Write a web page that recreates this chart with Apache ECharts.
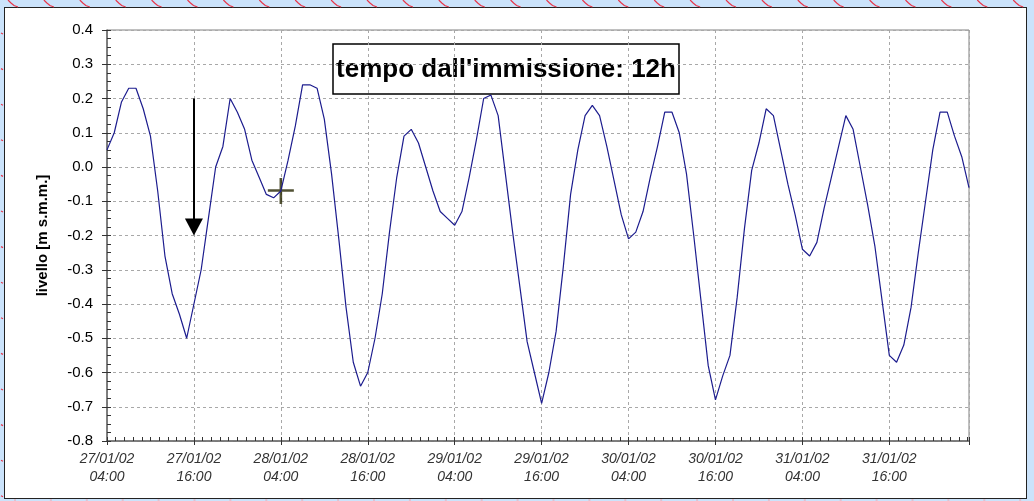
<!DOCTYPE html>
<html>
<head>
<meta charset="utf-8">
<script src="https://cdn.jsdelivr.net/npm/echarts@6/dist/echarts.min.js"></script>
<style>
	html, body { margin:0; padding:0; background:#cbe3fb; }
	#panel { position:absolute; left:4px; top:7px; width:1023px; height:492px; background:#fff; border:1px solid #222; box-sizing:border-box; }
	#chart { position:absolute; left:0; top:0; width:1034px; height:501px; }
</style>
</head>
<body>
<div id="panel"></div>
<div id="chart"></div>
<script>
	// livello orario, dal 27/01/02 04:00 (un valore per ora)
	var day27 = [0.05, 0.10, 0.19, 0.23, 0.23, 0.17, 0.09, -0.07, -0.26, -0.37,
		-0.43, -0.50, -0.40, -0.30, -0.15, 0.00, 0.06, 0.20, 0.16, 0.11];
	var day28 = [0.02, -0.03, -0.08, -0.09, -0.07, 0.02, 0.12, 0.24, 0.24, 0.23, 0.14, -0.02,
		-0.21, -0.41, -0.57, -0.64, -0.60, -0.50, -0.37, -0.19, -0.03, 0.09, 0.11, 0.07];
	var day29 = [0.00, -0.07, -0.13, -0.15, -0.17, -0.13, -0.03, 0.08, 0.20, 0.21, 0.15, -0.02,
		-0.19, -0.35, -0.51, -0.60, -0.69, -0.60, -0.48, -0.29, -0.08, 0.05, 0.15, 0.18];
	var day30 = [0.15, 0.06, -0.04, -0.14, -0.21, -0.19, -0.13, -0.03, 0.06, 0.16, 0.16, 0.10,
		-0.02, -0.20, -0.39, -0.58, -0.68, -0.61, -0.55, -0.38, -0.18, -0.01, 0.07, 0.17];
	var day31 = [0.15, 0.05, -0.05, -0.14, -0.24, -0.26, -0.22, -0.12, -0.03, 0.06, 0.15, 0.11,
		0.00, -0.11, -0.23, -0.39, -0.55, -0.57, -0.52, -0.41, -0.25, -0.10, 0.05, 0.16];
	var day01 = [0.16, 0.09, 0.03, -0.06];

	var tickLabels = ['27/01/02\n04:00', '27/01/02\n16:00', '28/01/02\n04:00', '28/01/02\n16:00',
		'29/01/02\n04:00', '29/01/02\n16:00', '30/01/02\n04:00', '30/01/02\n16:00',
		'31/01/02\n04:00', '31/01/02\n16:00'];

	// freccia e croce (ore dall'inizio, livello)
	var arrowFrom = [12, 0.2];
	var arrowTo = [12, -0.175];   // centro della punta, la punta arriva a -0.2
	var crossPoint = [24, -0.07];

	var livello = [].concat(day27, day28, day29, day30, day31, day01);
	var lineData = livello.map(function (v, i) { return [i, v]; });

	// segni rossi sul bordo della pagina
	var deco = [];
	for (var x = 8; x < 1034; x += 35.9) {
		deco.push({ type:'polyline', silent:true, shape:{ points:[[x,0],[x+3,3],[x+6,5.5],[x+10,7]] },
			style:{ stroke:'#e8364a', lineWidth:1.2, fill:null } });
		deco.push({ type:'line', silent:true, shape:{ x1:x+6, y1:500, x2:x+8, y2:500 },
			style:{ stroke:'#f0a0a8', lineWidth:1 } });
	}
	for (var y = 33; y < 501; y += 35.6) {
		deco.push({ type:'line', silent:true, shape:{ x1:1, y1:y, x2:3, y2:y+1 },
			style:{ stroke:'#e8364a', lineWidth:1.2 } });
	}

	var chart = echarts.init(document.getElementById('chart'));
	var option = {
		animation: false,
		textStyle: { fontFamily: 'Liberation Sans, Arial, sans-serif' },
		grid: { left:107, top:30, width:862, height:411, show:true, borderColor:'#808080', borderWidth:1 },
		xAxis: [{
			type:'value', min:0, max:119, interval:12, position:'bottom',
			axisLine:{ onZero:false, lineStyle:{ color:'#6a6a6a', width:1.5 } },
			axisTick:{ inside:false, length:4, lineStyle:{ color:'#333' } },
			axisLabel:{
				margin:9, fontSize:14, fontStyle:'italic', color:'#333', lineHeight:18,
				formatter:function (v) { return v % 12 === 0 ? tickLabels[v / 12] : ''; }
			},
			splitLine:{ show:true, lineStyle:{ color:'#a8a8a8', type:[3,3] } }
		}, {
			type:'value', min:0, max:119, interval:12, position:'bottom', offset:0,
			axisLine:{ show:false, onZero:false },
			axisTick:{ inside:true, length:4, lineStyle:{ color:'#333' } },
			minorTick:{ show:true, splitNumber:10, length:4, lineStyle:{ color:'#333' } },
			axisLabel:{ show:false },
			splitLine:{ show:false }
		}],
		yAxis: [{
			type:'value', min:-0.8, max:0.4, interval:0.1, position:'left',
			name:'livello [m s.m.m.]', nameLocation:'middle', nameGap:57,
			nameTextStyle:{ fontSize:15, fontWeight:'bold', color:'#000' },
			axisLine:{ show:true, onZero:false, lineStyle:{ color:'#6a6a6a', width:1.5 } },
			axisTick:{ show:true, inside:false, length:5, lineStyle:{ color:'#333' } },
			axisLabel:{ margin:14, fontSize:15, color:'#000', formatter:function (v) { return v.toFixed(1); } },
			splitLine:{ show:true, lineStyle:{ color:'#a8a8a8', type:[3,3] } }
		}, {
			type:'value', min:-0.8, max:0.4, interval:0.1, position:'left', offset:0,
			axisLine:{ show:false, onZero:false },
			axisTick:{ show:true, inside:true, length:4, lineStyle:{ color:'#333' } },
			minorTick:{ show:true, splitNumber:4, length:4, lineStyle:{ color:'#333' } },
			axisLabel:{ show:false },
			splitLine:{ show:false }
		}],
		graphic: deco.concat([{
			type:'group', z:100,
			children:[{
				type:'rect', shape:{ x:333, y:44, width:346, height:50 },
				style:{ fill:'#fff', stroke:'#000', lineWidth:1.5 }
			}, {
				type:'text',
				style:{ x:506, y:70, text:"tempo dall'immissione: 12h", fill:'#000',
					font:'bold 26px "Liberation Sans", Arial, sans-serif', textAlign:'center', textVerticalAlign:'middle' }
			}]
		}]),
		series: [{
			type:'line', data:lineData, symbol:'none',
			lineStyle:{ color:'#1c1c8e', width:1.2 },
			markLine:{
				silent:true, symbol:['none','triangle'], symbolSize:[18,17],
				label:{ show:false },
				lineStyle:{ color:'#000', width:2, type:'solid' },
				data:[[{ coord:arrowFrom }, { coord:arrowTo }]]
			}
		}, {
			type:'scatter', data:[crossPoint], silent:true,
			symbol:'path://M0,11.2H26V13.8H0ZM11.7,0H14.3V26H11.7Z', symbolSize:26,
			itemStyle:{ color:'#262600' }
		}]
	};
	chart.setOption(option);
</script>
</body>
</html>
